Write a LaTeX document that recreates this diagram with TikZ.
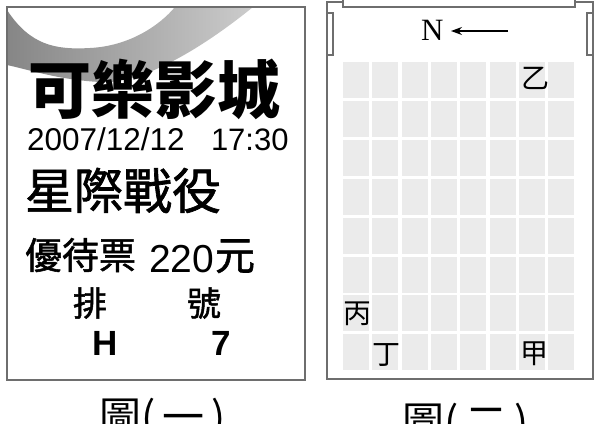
\documentclass[tikz,border=0pt]{standalone}
\usepackage{fontspec}
\setmainfont{Liberation Serif}
\newfontfamily\cjk{Noto Sans CJK TC}
\newfontfamily\cjkm[FakeBold=1.4]{Noto Sans CJK TC}
\newfontfamily\arial{Liberation Sans}
\usetikzlibrary{arrows.meta}
\definecolor{cellfill}{HTML}{EBEBEB}
\definecolor{framegray}{HTML}{6E6E6E}
\tikzset{
  txt/.style={inner sep=0pt, outer sep=0pt, anchor=base west},
  lbl/.style={inner sep=0pt, font=\cjk\fontsize{28}{28}\selectfont},
  captxt/.style={inner sep=0pt, anchor=base west, font=\cjk\fontsize{42}{42}\selectfont},
  framebox/.style={draw=framegray, line width=1.3pt},
  doorbox/.style={draw=framegray, line width=1.1pt, fill=white},
}
\begin{document}
\begin{tikzpicture}[x=1pt,y=-1pt]
\useasboundingbox (0,0) rectangle (601,423);
% ---------- left ticket ----------
\fill[white] (7,7) rectangle (305,380);
\shade[left color=gray!95, right color=gray!40]
  (7,10) .. controls (30,45) and (55,50) .. (90,48)
  .. controls (130,46) and (160,25) .. (175,7) -- (253,7)
  .. controls (200,50) and (140,85) .. (100,82)
  .. controls (60,80) and (30,70) .. (7,65) -- cycle;
\draw[framebox] (7,7) rectangle (305,380);
\node[txt, font=\cjk\bfseries\fontsize{63}{63}\selectfont] (title) at (28,113) {可樂影城};
\node[txt, font=\arial\fontsize{31.5}{31.5}\selectfont] (date) at (27,150) {2007/12/12};
\node[txt, font=\arial\fontsize{31}{31}\selectfont] (time) at (211,150) {17:30};
\node[txt, font=\cjkm\fontsize{49}{49}\selectfont] (movie) at (25,209) {星際戰役};
\node[txt, font=\cjkm\fontsize{37}{37}\selectfont] (kind) at (25,269) {優待票};
\node[txt, font=\arial\fontsize{39}{39}\selectfont] (price) at (149,272) {220};
\node[txt, font=\cjkm\fontsize{40}{40}\selectfont] (yuan) at (215,270) {元};
\node[txt, font=\cjkm\fontsize{34}{34}\selectfont] (pai) at (73,316) {排};
\node[txt, font=\cjkm\fontsize{34}{34}\selectfont] (hao) at (187,316) {號};
\node[txt, font=\arial\bfseries\fontsize{35}{35}\selectfont] (row) at (92,355) {H};
\node[txt, font=\arial\bfseries\fontsize{35}{35}\selectfont] (seat) at (211,355) {7};
% ---------- right seating plan ----------
\fill[white] (327,2) rectangle (593,379);
\draw[framebox] (327,2) rectangle (593,379);
\draw[doorbox] (343,-2) rectangle (575,7);
\draw[doorbox] (327,13) rectangle (333,55);
\draw[doorbox] (587,13) rectangle (593,55);
\node[txt, font=\fontsize{31}{31}\selectfont] (north) at (421,40) {N};
\coordinate (arrowstart) at (508,31);
\coordinate (arrowend) at (451,31);
\draw[line width=1.2pt, -{Stealth[length=11pt,width=8pt]}] (arrowstart) -- (arrowend);
\foreach \i in {0,...,7}
  \foreach \j in {0,...,7}
    \fill[cellfill] (343+\i*29.3, 62+\j*38.9) rectangle ++(26,36);
\node[lbl] (yi) at (535,78) {乙};
\node[lbl] (bing) at (357,314) {丙};
\node[lbl] (ding) at (386,355) {丁};
\node[lbl] (jia) at (534,354) {甲};
% ---------- captions ----------
\node[captxt] (cap1) at (99,432) {圖(\,一\,)};
\node[captxt] (cap2) at (402,437) {圖(\,二\,)};
\end{tikzpicture}
\end{document}
